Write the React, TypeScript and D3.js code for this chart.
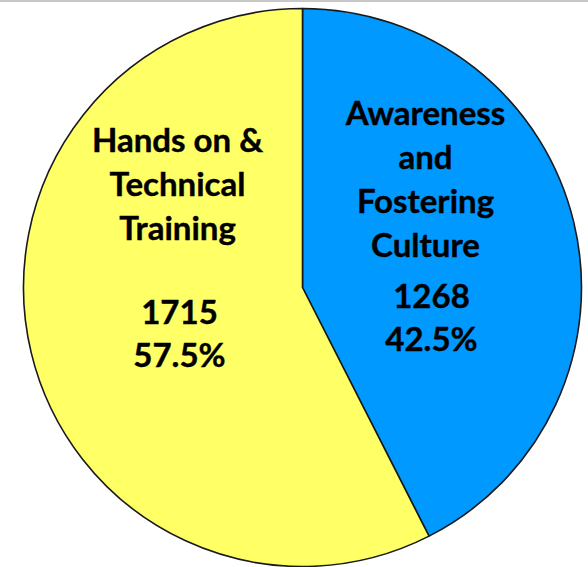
import React, { useEffect, useRef } from 'react';
import * as d3 from 'd3';

// slice order: clockwise from 12 o'clock
const categories = ['Awareness and Fostering Culture', 'Hands on & Technical Training'];
const values = [1268, 1715];
const percents = ['42.5%', '57.5%'];
const labelLines = [
  ['Awareness', 'and', 'Fostering', 'Culture'],
  ['Hands on &', 'Technical', 'Training'],
];
const colors = ['#0099FF', '#FFFF66'];

const width = 588;
const height = 567;
const cx = 302.5;
const cy = 287.5;
const radius = 279;

// where each label block sits (relative to pie centre) and its spacing
const labelLayout = [
  { dx: 123, top: -163, gap: 51 },
  { dx: -125, top: -136, gap: 84 },
];
const lineH = 44;

const App = () => {
  const svgRef = useRef<SVGSVGElement>(null);

  useEffect(() => {
    const svg = d3.select(svgRef.current);
    svg.selectAll('*').remove();

    svg.append('line')
      .attr('x1', 0).attr('x2', width)
      .attr('y1', 1).attr('y2', 1)
      .attr('stroke', '#c8c8c8')
      .attr('stroke-width', 2);

    const pie = d3.pie<number>().sort(null).value(d => d);
    const arc = d3.arc<d3.PieArcDatum<number>>().innerRadius(0).outerRadius(radius);

    const g = svg.append('g').attr('transform', `translate(${cx},${cy})`);

    g.selectAll('path.slice')
      .data(pie(values))
      .enter().append('path')
      .attr('class', 'slice')
      .attr('d', arc)
      .attr('fill', (d, i) => colors[i])
      .attr('stroke', '#1a1a1a')
      .attr('stroke-width', 1.6)
      .attr('stroke-linejoin', 'round');

    categories.forEach((c, i) => {
      const lay = labelLayout[i];
      const t = g.append('text')
        .attr('text-anchor', 'middle')
        .attr('font-family', 'Lato, "Open Sans", sans-serif')
        .attr('font-weight', 'bold')
        .attr('font-size', 33)
        .attr('stroke', '#000')
        .attr('stroke-width', 0.4)
        .attr('fill', '#000');
      const lines = labelLines[i];
      lines.forEach((l, j) => {
        t.append('tspan')
          .attr('x', lay.dx)
          .attr('y', lay.top + j * lineH)
          .text(l);
      });
      const vy = lay.top + (lines.length - 1) * lineH + lay.gap;
      t.append('tspan').attr('x', lay.dx + (i === 0 ? 6 : 2)).attr('y', vy).text(String(values[i]));
      t.append('tspan').attr('x', lay.dx + (i === 0 ? 6 : 2)).attr('y', vy + 43).text(percents[i]);
    });
  }, []);

  return (
    <svg
      ref={svgRef}
      width={width}
      height={height}
      style={{ position: 'absolute', left: 0, top: 0, background: '#fff' }}
    />
  );
};

export default App;
